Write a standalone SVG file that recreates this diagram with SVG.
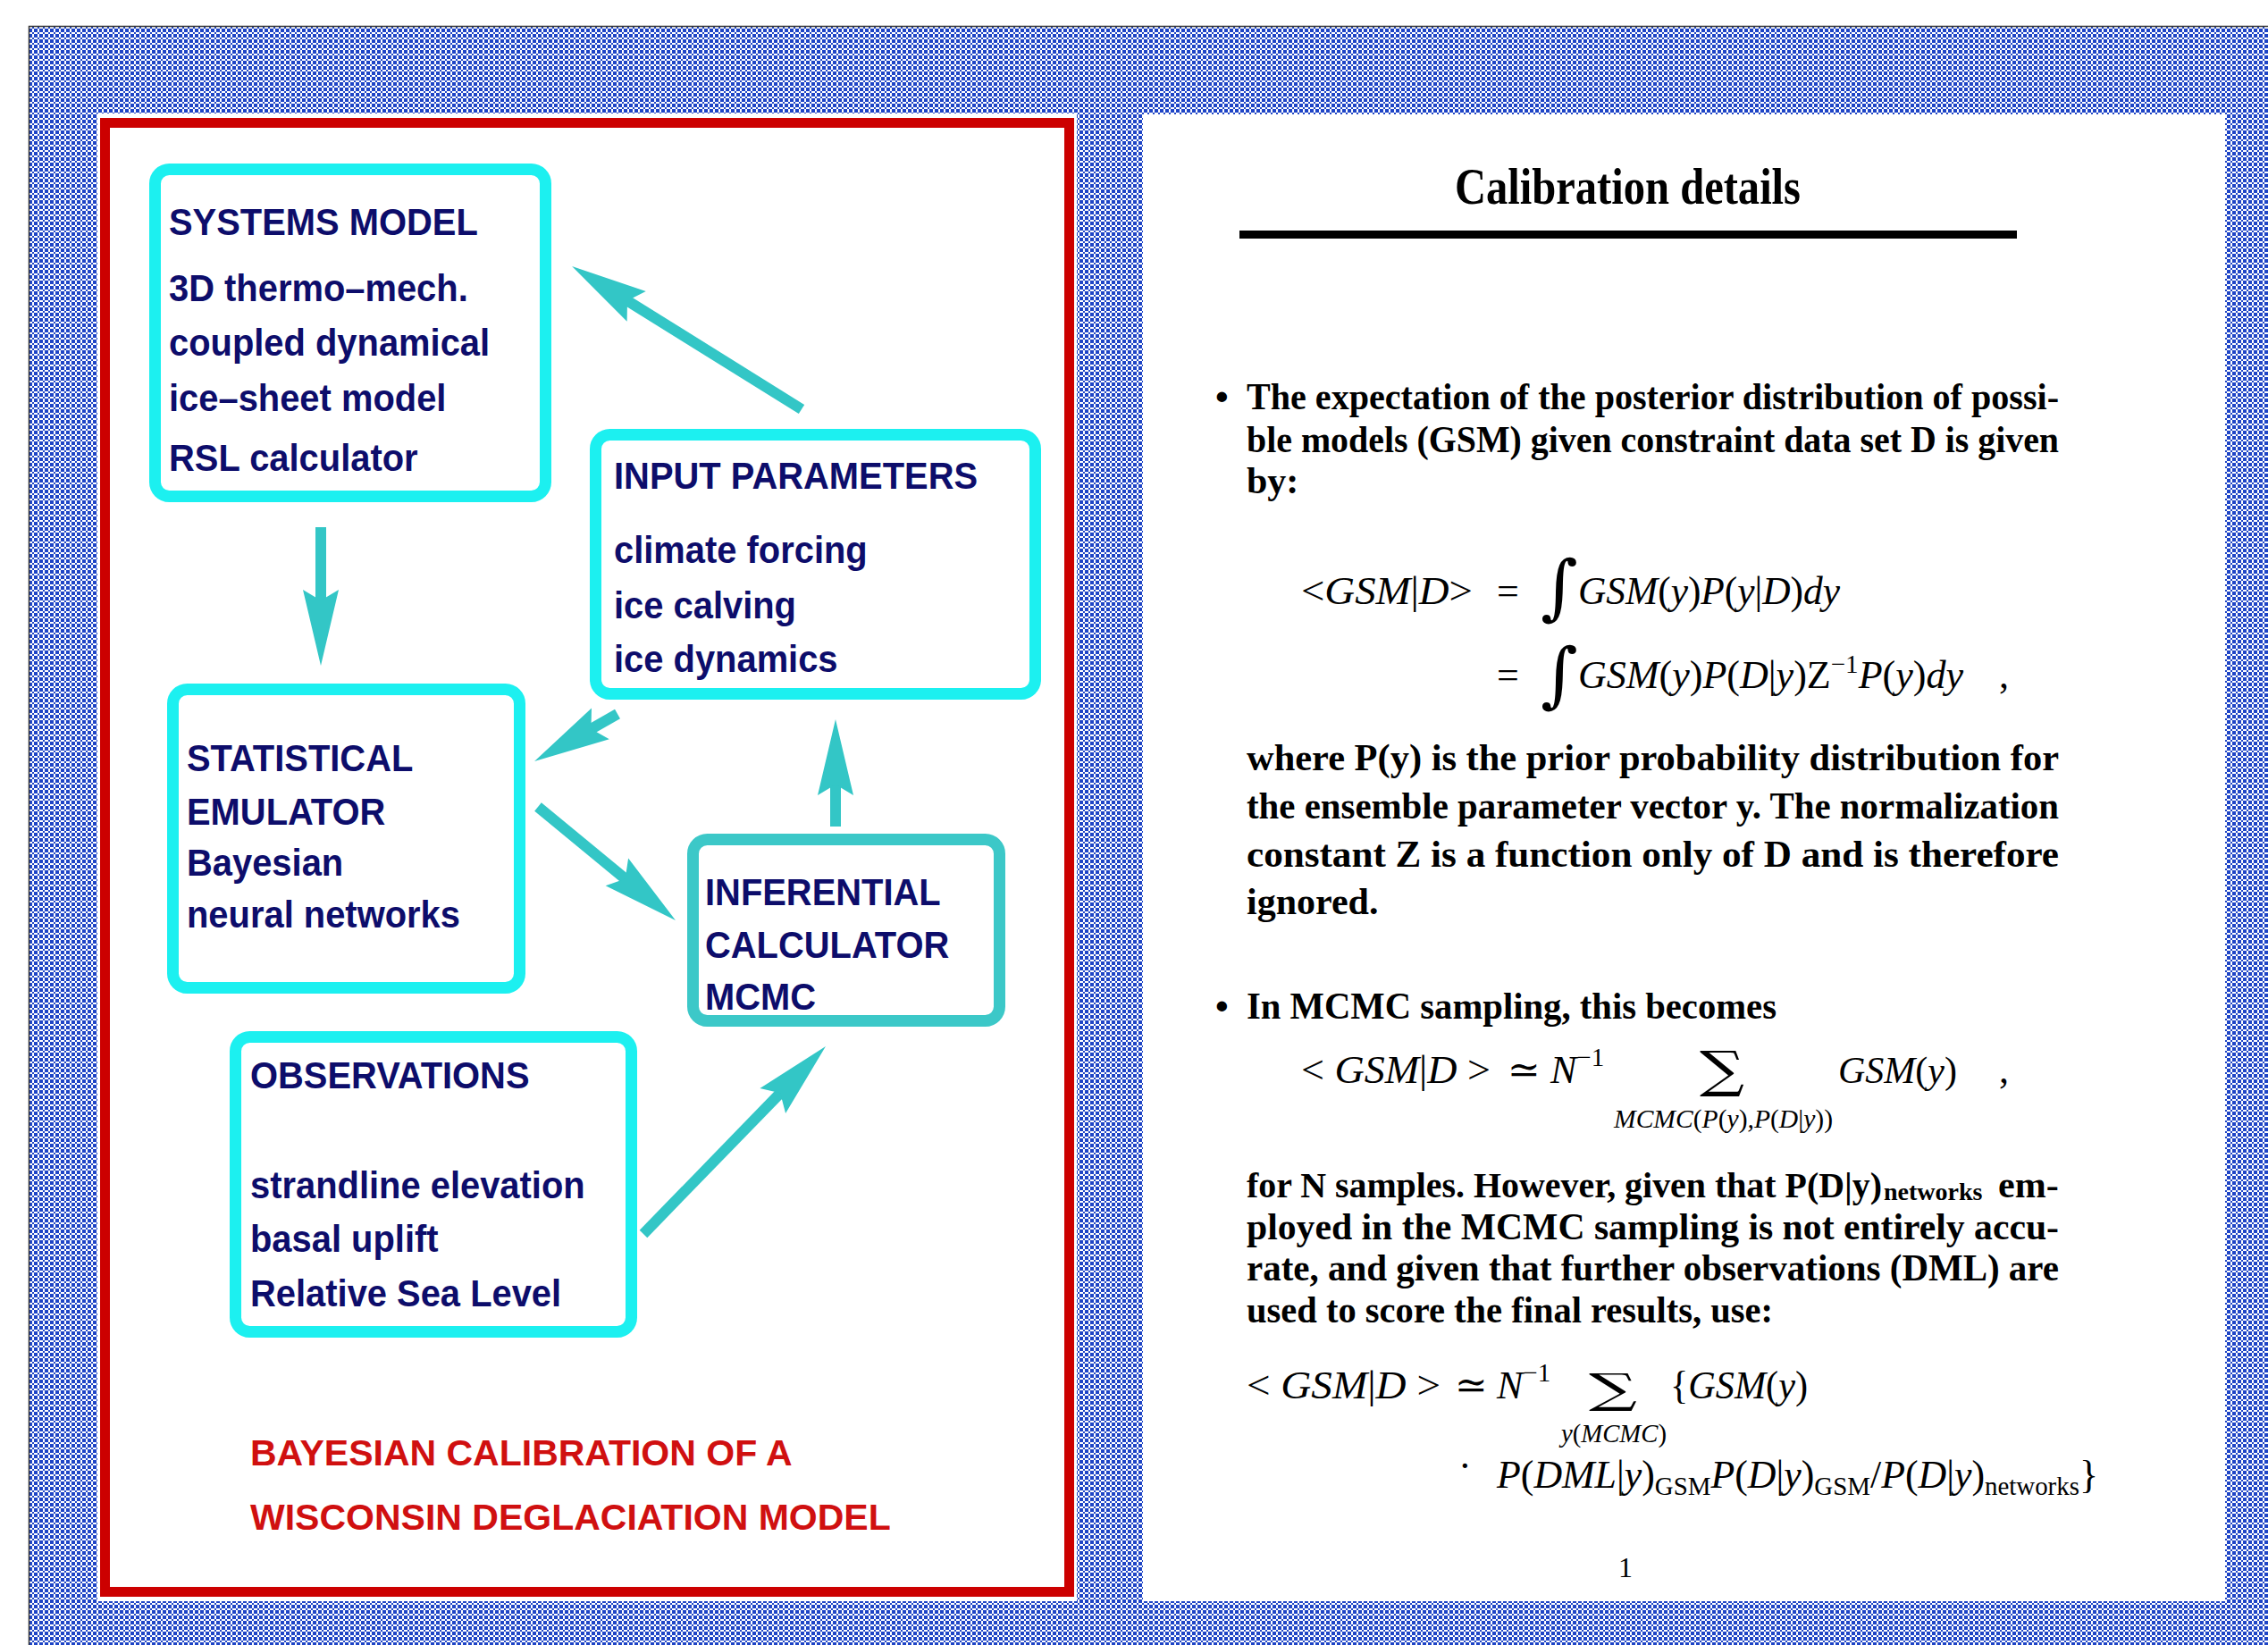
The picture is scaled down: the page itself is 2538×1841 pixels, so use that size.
<svg xmlns="http://www.w3.org/2000/svg" width="2538" height="1841" viewBox="0 0 2538 1841">
<defs>
<pattern id="mesh" x="0" y="0" width="6" height="6" patternUnits="userSpaceOnUse">
<rect width="6" height="6" fill="#ffffff"/>
<path d="M0 0h2v2h-2z M2 2h4v4h-4z" fill="#1f45c6"/>
</pattern>
<marker id="ah" viewBox="-50 -22 95 44" markerWidth="95" markerHeight="44" refX="0" refY="0" markerUnits="userSpaceOnUse" orient="auto">
<path d="M-45,-20 L40,0 L-45,20 L-33,0 Z" fill="#33c6c6"/>
</marker>
<style>
.box{fill:#ffffff;stroke:#1cf0f0;stroke-width:13}
.box2{fill:#ffffff;stroke:#3cc8c8;stroke-width:13}
.lt{font-family:"Liberation Sans",Arial,sans-serif;font-weight:bold;font-size:42px;fill:#0d0d6b}
.red{font-family:"Liberation Sans",Arial,sans-serif;font-weight:bold;font-size:41px;fill:#d01010}
.conn line{stroke:#33c6c6;stroke-width:12;marker-end:url(#ah)}
.bt{font-family:"Liberation Serif","Times New Roman",serif;font-weight:bold;font-size:42px;fill:#000}
.eq{font-family:"Liberation Serif","DejaVu Serif",serif;font-style:italic;font-size:44px;fill:#000}
.up{font-style:normal}
.sm{font-size:29px}
.big{font-family:"DejaVu Serif",serif;font-style:normal;fill:#000}
</style>
</defs>
<rect width="2538" height="1841" fill="#ffffff"/>
<rect x="32" y="29" width="2506" height="1812" fill="url(#mesh)"/>
<path d="M32.5,1841 V29.5 H2538" fill="none" stroke="#333" stroke-width="1.5"/>

<g id="left-panel">
<rect x="109" y="127" width="1096" height="1665" fill="#ffffff"/>
<rect x="117.5" y="137.5" width="1079" height="1644" fill="none" stroke="#cc0000" stroke-width="11"/>
</g>

<g id="systems-model">
<rect class="box" x="173.5" y="189.5" width="437" height="366" rx="16"/>
<g transform="translate(189,0) scale(0.95,1)">
<text class="lt" x="0" y="263">SYSTEMS MODEL</text>
<text class="lt" x="0" y="337">3D thermo–mech.</text>
<text class="lt" x="0" y="398">coupled dynamical</text>
<text class="lt" x="0" y="460">ice–sheet model</text>
<text class="lt" x="0" y="527">RSL calculator</text>
</g>
</g>

<g id="input-parameters">
<rect class="box" x="666.5" y="486.5" width="492" height="290" rx="16"/>
<g transform="translate(687,0) scale(0.95,1)">
<text class="lt" x="0" y="547">INPUT PARAMETERS</text>
<text class="lt" x="0" y="630">climate forcing</text>
<text class="lt" x="0" y="692">ice calving</text>
<text class="lt" x="0" y="752">ice dynamics</text>
</g>
</g>

<g id="statistical-emulator">
<rect class="box" x="193.5" y="771.5" width="388" height="334" rx="16"/>
<g transform="translate(209,0) scale(0.95,1)">
<text class="lt" x="0" y="863">STATISTICAL</text>
<text class="lt" x="0" y="923">EMULATOR</text>
<text class="lt" x="0" y="980">Bayesian</text>
<text class="lt" x="0" y="1038">neural networks</text>
</g>
</g>

<g id="inferential-calculator">
<rect class="box2" x="775.5" y="939.5" width="343" height="203" rx="16"/>
<g transform="translate(789,0) scale(0.95,1)">
<text class="lt" x="0" y="1013">INFERENTIAL</text>
<text class="lt" x="0" y="1072">CALCULATOR</text>
<text class="lt" x="0" y="1130">MCMC</text>
</g>
</g>

<g id="observations">
<rect class="box" x="263.5" y="1160.5" width="443" height="330" rx="16"/>
<g transform="translate(280,0) scale(0.95,1)">
<text class="lt" x="0" y="1218">OBSERVATIONS</text>
<text class="lt" x="0" y="1341">strandline elevation</text>
<text class="lt" x="0" y="1401">basal uplift</text>
<text class="lt" x="0" y="1462">Relative Sea Level</text>
</g>
</g>

<g id="caption">
<text class="red" x="280" y="1640">BAYESIAN CALIBRATION OF A</text>
<text class="red" x="280" y="1712">WISCONSIN DEGLACIATION MODEL</text>
</g>

<g id="connectors" class="conn">
<line x1="897" y1="458" x2="674" y2="319.1"/>
<line x1="359" y1="590" x2="359" y2="705"/>
<line x1="691" y1="799" x2="632.8" y2="832.2"/>
<line x1="602" y1="903" x2="725.1" y2="1004.5"/>
<line x1="935" y1="925" x2="935" y2="845"/>
<line x1="720" y1="1381" x2="896.1" y2="1199.7"/>
</g>

<g id="right-panel">
<rect x="1279" y="128" width="1211" height="1664" fill="#ffffff"/>
<text class="bt" x="1628" y="228" style="font-size:56px" textLength="387" lengthAdjust="spacingAndGlyphs">Calibration details</text>
<rect x="1387" y="258" width="870" height="9" fill="#000"/>

<text class="bt" x="1360" y="458">•</text>
<text class="bt" x="1395" y="458" textLength="909" lengthAdjust="spacingAndGlyphs">The expectation of the posterior distribution of possi-</text>
<text class="bt" x="1395" y="506" textLength="909" lengthAdjust="spacingAndGlyphs">ble models (GSM) given constraint data set D is given</text>
<text class="bt" x="1395" y="552">by:</text>

<text class="eq" x="1456" y="676" textLength="192" lengthAdjust="spacingAndGlyphs"><tspan class="up">&lt;</tspan>GSM<tspan class="up">|</tspan>D<tspan class="up">&gt;</tspan></text>
<text class="eq up" x="1675" y="676">=</text>
<text class="big" x="1724" y="684" font-size="80">∫</text>
<text class="eq" x="1766" y="676" textLength="293" lengthAdjust="spacingAndGlyphs">GSM<tspan class="up">(</tspan>y<tspan class="up">)</tspan>P<tspan class="up">(</tspan>y<tspan class="up">|</tspan>D<tspan class="up">)</tspan>dy</text>

<text class="eq up" x="1675" y="770">=</text>
<text class="big" x="1724" y="782" font-size="80">∫</text>
<text class="eq" x="1766" y="770" textLength="431" lengthAdjust="spacingAndGlyphs">GSM<tspan class="up">(</tspan>y<tspan class="up">)</tspan>P<tspan class="up">(</tspan>D<tspan class="up">|</tspan>y<tspan class="up">)</tspan><tspan class="up">Z</tspan><tspan class="up sm" dy="-17">−1</tspan><tspan dy="17">P</tspan><tspan class="up">(</tspan>y<tspan class="up">)</tspan>dy</text>
<text class="eq up" x="2237" y="770">,</text>

<text class="bt" x="1395" y="862" textLength="909" lengthAdjust="spacingAndGlyphs">where P(y) is the prior probability distribution for</text>
<text class="bt" x="1395" y="916" textLength="909" lengthAdjust="spacingAndGlyphs">the ensemble parameter vector y. The normalization</text>
<text class="bt" x="1395" y="970" textLength="909" lengthAdjust="spacingAndGlyphs">constant Z is a function only of D and is therefore</text>
<text class="bt" x="1395" y="1023">ignored.</text>

<text class="bt" x="1360" y="1140">•</text>
<text class="bt" x="1395" y="1140" textLength="593" lengthAdjust="spacingAndGlyphs">In MCMC sampling, this becomes</text>

<text class="eq" x="1456" y="1212" textLength="212" lengthAdjust="spacingAndGlyphs"><tspan class="up">&lt; </tspan>GSM<tspan class="up">|</tspan>D<tspan class="up"> &gt;</tspan></text>
<text class="eq up" x="1687" y="1212">≃</text>
<text class="eq" x="1735" y="1212">N<tspan class="up sm" dy="-19">−1</tspan></text>
<text class="big" x="1902" y="1216" font-size="56" textLength="50" lengthAdjust="spacingAndGlyphs">∑</text>
<text class="eq" x="2057" y="1212" style="font-size:42px">GSM<tspan class="up">(</tspan>y<tspan class="up">)</tspan></text>
<text class="eq up" x="2237" y="1212">,</text>
<text class="eq sm" x="1806" y="1262" textLength="245" lengthAdjust="spacingAndGlyphs">MCMC<tspan class="up">(</tspan>P<tspan class="up">(</tspan>y<tspan class="up">)</tspan>,P<tspan class="up">(</tspan>D<tspan class="up">|</tspan>y<tspan class="up">))</tspan></text>

<text class="bt" x="1395" y="1340" style="font-size:39.5px" textLength="711" lengthAdjust="spacingAndGlyphs">for N samples. However, given that P(D|y)</text>
<text class="bt" x="2108" y="1343" style="font-size:28px">networks</text>
<text class="bt" x="2236" y="1340">em-</text>
<text class="bt" x="1395" y="1387" textLength="909" lengthAdjust="spacingAndGlyphs">ployed in the MCMC sampling is not entirely accu-</text>
<text class="bt" x="1395" y="1433" textLength="909" lengthAdjust="spacingAndGlyphs">rate, and given that further observations (DML) are</text>
<text class="bt" x="1395" y="1480" textLength="589" lengthAdjust="spacingAndGlyphs">used to score the final results, use:</text>

<text class="eq" x="1395" y="1565" textLength="217" lengthAdjust="spacingAndGlyphs"><tspan class="up">&lt; </tspan>GSM<tspan class="up">|</tspan>D<tspan class="up"> &gt;</tspan></text>
<text class="eq up" x="1628" y="1565">≃</text>
<text class="eq" x="1675" y="1565">N<tspan class="up sm" dy="-19">−1</tspan></text>
<text class="big" x="1778" y="1570" font-size="46" textLength="54" lengthAdjust="spacingAndGlyphs">∑</text>
<text class="eq" x="1869" y="1565" textLength="154" lengthAdjust="spacingAndGlyphs"><tspan class="up">{</tspan>GSM<tspan class="up">(</tspan>y<tspan class="up">)</tspan></text>
<text class="eq sm" x="1747" y="1614" textLength="118" lengthAdjust="spacingAndGlyphs">y<tspan class="up">(</tspan>MCMC<tspan class="up">)</tspan></text>

<text class="eq up" x="1632" y="1655">·</text>
<text class="eq" x="1675" y="1665" textLength="673" lengthAdjust="spacingAndGlyphs">P<tspan class="up">(</tspan>DML<tspan class="up">|</tspan>y<tspan class="up">)</tspan><tspan class="up sm" dy="8">GSM</tspan><tspan dy="-8">P</tspan><tspan class="up">(</tspan>D<tspan class="up">|</tspan>y<tspan class="up">)</tspan><tspan class="up sm" dy="8">GSM</tspan><tspan class="up" dy="-8">/</tspan>P<tspan class="up">(</tspan>D<tspan class="up">|</tspan>y<tspan class="up">)</tspan><tspan class="up sm" dy="8">networks</tspan><tspan class="up" dy="-8">}</tspan></text>

<text class="eq up" x="1811" y="1765" style="font-size:32px">1</text>
</g>
</svg>
